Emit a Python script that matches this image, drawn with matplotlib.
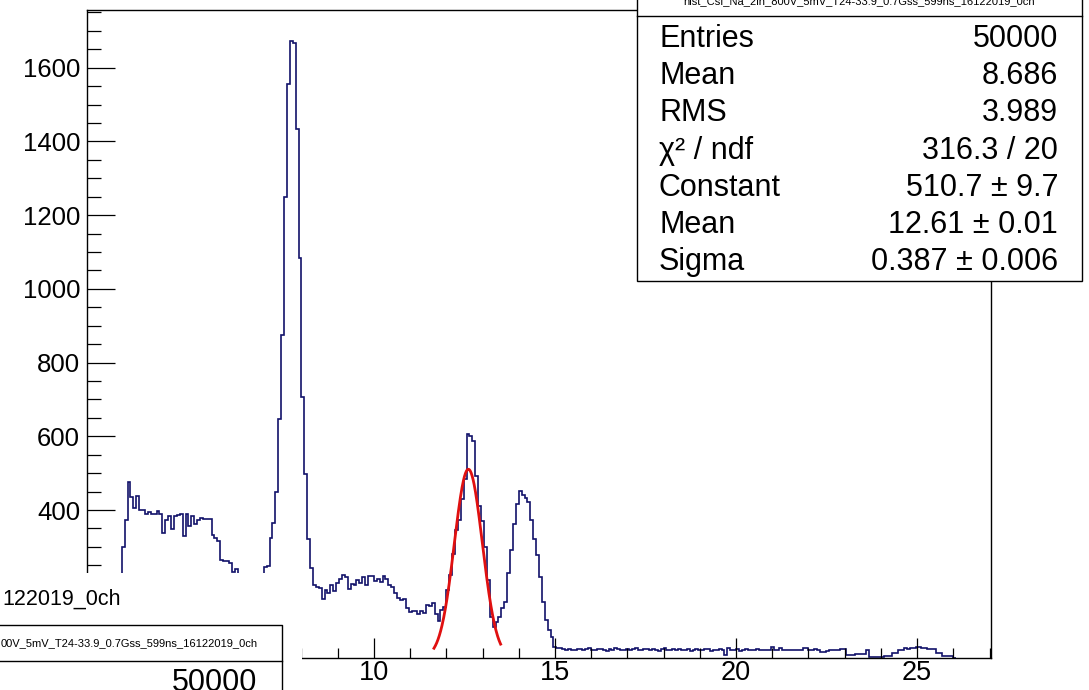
import numpy as np
import matplotlib
matplotlib.use("Agg")
import matplotlib.pyplot as plt
from matplotlib.patches import Rectangle
from matplotlib.lines import Line2D
from matplotlib.ticker import MultipleLocator

plt.rcParams['font.family'] = ['Liberation Sans', 'DejaVu Sans']

# histogram binning (ROOT style, fixed width bins)
hist_start = 3.04
bin_width = 0.08

# bin contents, left to right
plateau = [299, 372, 477, 435, 406, 438, 400, 400, 390, 395,
           390, 390, 397, 388, 339, 374, 383, 348, 383, 386,
           388, 330, 390, 357, 383, 362, 374, 379, 376, 376,
           376, 333, 325, 316, 265, 262, 262, 256, 231, 240]
dip = [210, 190, 170, 155, 150, 155, 170, 190, 220]
main_peak = [245, 248, 323, 366, 450, 646, 876, 1250, 1557, 1672,
             1666, 1433, 1085, 708, 497, 322, 244, 196]
shoulder = [191, 188, 160, 182, 176, 198, 180, 203, 214, 223,
            219, 185, 200, 198, 209, 203, 219, 198, 221, 221,
            207, 212, 206, 220, 212, 198, 191, 176, 162, 155,
            158, 135, 124, 126, 126, 117, 125, 120, 143, 140,
            148, 118, 100, 128, 137]
double_peak = [182, 223, 282, 345, 372, 430, 484, 606, 600, 588,
               493, 412, 370, 300, 209, 110, 83, 95, 110, 135,
               151, 228, 291, 363, 417, 453, 442, 434, 421, 372,
               322, 277, 218, 151, 101, 74, 56, 29]
tail_a = [27, 25, 22, 20, 23, 21, 19, 24, 22, 20,
          23, 25, 21, 19, 22, 24, 20, 18, 23, 21,
          25, 22, 19, 21, 24, 20, 22, 26, 21, 19,
          23, 22, 20, 24, 21, 18, 22, 25, 20, 19,
          23, 21, 24, 19, 20, 22, 18, 21, 23, 20,
          19, 22, 24, 18, 21, 20, 23, 19, 8, 26,
          21, 19, 22, 18, 20, 23, 19, 21, 20, 22]
tail_b = [20, 19, 21, 20, 29, 20, 21, 25, 19, 20,
          21, 19, 20, 21, 20, 25, 27, 21, 20, 22,
          20, 16, 16, 17, 20, 21, 20, 19, 24, 24,
          7, 7, 8, 9, 9, 10, 9, 20, 2, 2,
          1, 2, 2, 3, 5, 5, 11, 11, 20, 19,
          25, 24, 26, 25, 29, 29, 25, 26, 24, 22,
          22, 12, 12, 4, 4, 4, 3, 0]

# gaussian fit result
fit_const = 510.7
fit_mean = 12.61
fit_sigma = 0.387
fit_lo, fit_hi = 11.66, 13.50

# axis ticks (labels under the pasted corner are not visible)
x_ticks = [5, 10, 15, 20, 25]
x_tick_labels = ['', '10', '15', '20', '25']
y_ticks = [0, 200, 400, 600, 800, 1000, 1200, 1400, 1600]
y_tick_labels = ['', '', '400', '600', '800', '1000', '1200', '1400', '1600']

stat_labels = ["Entries", "Mean", "RMS", "\u03c7\u00b2 / ndf", "Constant", "Mean", "Sigma"]
stat_values = ["50000", "8.686", "3.989", "316.3 / 20", "510.7 \u00b1 9.7",
               "12.61 \u00b1 0.01", "0.387 \u00b1 0.006"]
hist_name = "hist_CsI_Na_2in_800V_5mV_T24-33.9_0.7Gss_599ns_16122019_0ch"
other_title = "122019_0ch"
other_name = "00V_5mV_T24-33.9_0.7Gss_599ns_16122019_0ch"
other_entries = "50000"

counts = np.array(plateau + dip + main_peak + shoulder + double_peak + tail_a + tail_b, dtype=float)
edges = hist_start + bin_width * np.arange(len(counts) + 1)

W, H = 1089, 690


def fx(x):
    return x / W


def fy(y):
    return 1 - y / H


fig = plt.figure(figsize=(W / 100, H / 100), dpi=100)
ax = fig.add_axes([fx(87), fy(657.5), fx(991) - fx(87), fy(9.5) - fy(657.5)])

hist_color = '#12126a'
ax.stairs(counts, edges, baseline=0, color=hist_color, lw=1.2)

xf = np.linspace(fit_lo, fit_hi, 200)
yf = fit_const * np.exp(-0.5 * ((xf - fit_mean) / fit_sigma) ** 2)
ax.plot(xf, yf, color='#e01010', lw=2.0)

ax.set_xlim(2.08, 27.04)
ax.set_ylim(0, 1758)
ax.set_xticks(x_ticks, x_tick_labels)
ax.set_yticks(y_ticks, y_tick_labels)
ax.xaxis.set_minor_locator(MultipleLocator(1))
ax.yaxis.set_minor_locator(MultipleLocator(50))
ax.tick_params(which='both', direction='in', color='black', width=0.9,
               top=False, right=False)
ax.tick_params(axis='y', which='major', length=20, labelsize=18.5, pad=5)
ax.tick_params(axis='y', which='minor', length=10)
ax.tick_params(axis='x', which='major', length=14.4, labelsize=19.5, pad=2)
ax.tick_params(axis='x', which='minor', length=7.2)
for sp in ax.spines.values():
    sp.set_linewidth(1.0)

# stats box, top right
fig.add_artist(Rectangle((fx(637), fy(281)), fx(1082) - fx(637), fy(-5) - fy(281),
                         transform=fig.transFigure, facecolor='white',
                         edgecolor='black', lw=1.0, zorder=5))
fig.add_artist(Line2D([fx(637), fx(1082)], [fy(16), fy(16)],
                      transform=fig.transFigure, color='black', lw=1.0, zorder=6))
fig.text(fx(859), fy(4.5), hist_name, ha='center', va='baseline', fontsize=8, zorder=7)
for i, (lab, val) in enumerate(zip(stat_labels, stat_values)):
    yb = fy(47 + 37.2 * i)
    fig.text(fx(659), yb, lab, ha='left', va='baseline', fontsize=22, zorder=7)
    fig.text(fx(1058), yb, val, ha='right', va='baseline', fontsize=22, zorder=7)

# piece of another canvas covering the lower left corner
fig.add_artist(Rectangle((0, 0), fx(302), fy(573), transform=fig.transFigure,
                         facecolor='white', edgecolor='none', zorder=5))
fig.text(fx(2), fy(599), other_title, ha='left', va='center', fontsize=15.5, zorder=7)
fig.add_artist(Line2D([0, fx(282), fx(282)], [fy(625), fy(625), 0],
                      transform=fig.transFigure, color='black', lw=1.0, zorder=6))
fig.add_artist(Line2D([0, fx(282)], [fy(661), fy(661)],
                      transform=fig.transFigure, color='black', lw=1.0, zorder=6))
fig.text(fx(1), fy(643), other_name, ha='left', va='center', fontsize=8, zorder=7)
fig.text(fx(257), fy(668), other_entries, ha='right', va='top', fontsize=22, zorder=7)

fig.savefig("out.png", dpi=100)
